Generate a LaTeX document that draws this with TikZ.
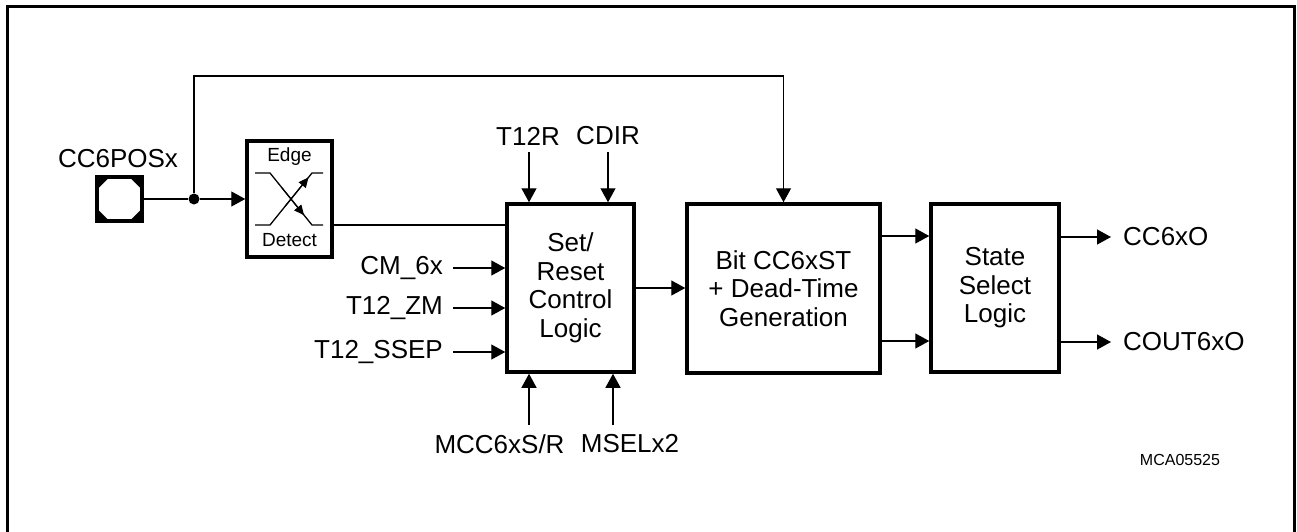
\documentclass[tikz,border=0pt]{standalone}
\usepackage{fontspec}
\setmainfont{Liberation Sans}
\usetikzlibrary{arrows.meta,calc}
\begin{document}
\begin{tikzpicture}[x=1pt,y=-1pt,
  every node/.style={font=\fontsize{26}{28.5}\selectfont, inner sep=0pt},
  wire/.style={line width=1.3pt},
  arr/.style={line width=1.3pt, -{Triangle[length=14pt,width=15pt]}},
  smallarr/.style={line width=1.1pt, -{Triangle[length=10pt,width=9pt]}},
  block/.style={draw, line width=3.5pt, align=center},
  smalltext/.style={font=\fontsize{19}{22}\selectfont}]
\useasboundingbox (0,0) rectangle (1297,531);
\begin{scope}
  \clip (0,0) rectangle (1297,531);
  \draw[line width=3pt] (7.5,6.5) rectangle (1294,570);
\end{scope}

% pad
\node[draw, line width=3.5pt, minimum width=45pt, minimum height=44pt] (pad) at (119.5,199) {};
\begin{scope}[shift={(pad.center)}]
  \fill (-22.5,-22) -- (-10,-22) -- (-22.5,-9.5) -- cycle;
  \fill (22.5,-22) -- (10,-22) -- (22.5,-9.5) -- cycle;
  \fill (-22.5,22) -- (-10,22) -- (-22.5,9.5) -- cycle;
  \fill (22.5,22) -- (10,22) -- (22.5,9.5) -- cycle;
\end{scope}
\node (padlbl) at (118,159) {CC6POSx};

% junction
\node[circle, fill, minimum size=11pt] (jn) at (194,199) {};

% edge detect
\node[block, minimum width=85pt, minimum height=116pt] (ed) at (289.5,199) {};
\node[smalltext] (edtop) at (289.5,157) {Edge};
\node[smalltext] (edbot) at (289.5,240) {Detect};
\draw[wire] (255,225) -- (270,225) -- (312,173) -- (323,173);
\draw[wire] (255,173) -- (270,173) -- (312,225) -- (323,225);
\draw[smallarr] (285,206.4) -- (308.5,177.4);
\draw[smallarr] (282,187.9) -- (304,215.2);

% main blocks
\node[block, minimum width=127pt, minimum height=168pt] (sr) at (570.5,288) {Set/\\Reset\\Control\\Logic};
\node[block, minimum width=193pt, minimum height=169pt] (bit) at (783.5,288.5) {Bit CC6xST\\+ Dead-Time\\Generation};
\node[block, minimum width=128pt, minimum height=168pt] (st) at (995,288) {State\\Select\\Logic};

% pad, junction, edge detect connections
\draw[wire] (pad.east) -- (jn);
\draw[arr] (jn) -- (ed.west);
\coordinate (tp) at (194,76);
\draw[arr] (jn) -- (tp) -| (bit.north);
\coordinate (edo) at ($(ed.east)+(0,26)$);
\draw[wire] (edo) -- (edo -| sr.west);

% top inputs
\node (t12r) at (528,136) {T12R};
\node (cdir) at (608,136) {CDIR};
\coordinate (t1) at (529,152);
\coordinate (t2) at (608,152);
\draw[arr] (t1) -- (t1 |- sr.north);
\draw[arr] (t2) -- (t2 |- sr.north);

% left inputs
\node[anchor=east] (cm) at (443,268) {CM\_6x};
\node[anchor=east] (zm) at (443,308) {T12\_ZM};
\node[anchor=east] (ssep) at (443,352) {T12\_SSEP};
\draw[arr] ([xshift=10pt]cm.east) -- (cm.east -| sr.west);
\draw[arr] ([xshift=10pt]zm.east) -- (zm.east -| sr.west);
\draw[arr] ([xshift=10pt]ssep.east) -- (ssep.east -| sr.west);

% bottom inputs
\node (mcc) at (499.5,444) {MCC6xS/R};
\node (msel) at (630,444) {MSELx2};
\coordinate (b1) at (529,425);
\coordinate (b2) at (613,425);
\draw[arr] (b1) -- (b1 |- sr.south);
\draw[arr] (b2) -- (b2 |- sr.south);

% sr -> bit
\draw[arr] (sr.east) -- (sr.east -| bit.west);

% bit -> state
\coordinate (m1) at ($(bit.east)+(0,-52.5)$);
\coordinate (m2) at ($(bit.east)+(0,52.5)$);
\draw[arr] (m1) -- (m1 -| st.west);
\draw[arr] (m2) -- (m2 -| st.west);

% outputs
\node[anchor=west] (o1) at (1123,237) {CC6xO};
\node[anchor=west] (o2) at (1123,342) {COUT6xO};
\draw[arr] (o1.west -| st.east) -- ([xshift=-12pt]o1.west);
\draw[arr] (o2.west -| st.east) -- ([xshift=-12pt]o2.west);

% figure id
\node[font=\fontsize{16}{18}\selectfont] (fid) at (1180,460) {MCA05525};
\end{tikzpicture}
\end{document}
